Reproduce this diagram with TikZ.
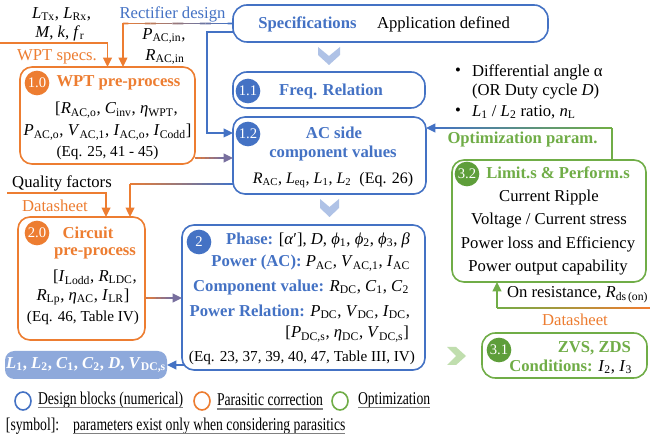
\documentclass[tikz,border=0pt]{standalone}
\usepackage{fontspec}
\setmainfont{Liberation Serif}
\newfontfamily\condfont[FakeStretch=0.76]{Liberation Serif}
\usetikzlibrary{arrows.meta,calc,shapes.geometric}
\definecolor{cblue}{HTML}{4472C4}
\definecolor{corange}{HTML}{ED7D31}
\definecolor{cgreen}{HTML}{70AD47}
\definecolor{cpurple}{HTML}{786F9E}
\definecolor{cpill}{HTML}{8EA9DB}
\definecolor{cchevb}{HTML}{AFC2E6}
\definecolor{cchevg}{HTML}{C0DEAE}
\definecolor{cbadgeg}{HTML}{5E9E3A}
\newcommand\vs[2]{\textit{#1}\textsubscript{\textup{#2}}}
\newcommand\hd[1]{\textcolor{cblue}{\bfseries #1}}
\newcommand\fsA{\fontsize{12.5}{14}\selectfont}
\newcommand\fsE{\fontsize{11.4}{13}\selectfont}
\newcommand\fsL{\condfont\fontsize{13.5}{15}\selectfont}
\newcommand\gradline[4]{%
  \foreach \i [evaluate=\i as \p using int(\i*5)] in {0,...,19}{%
    \draw[ln, color=#4!\p!#3] ($(#1)!{\i/20}!(#2)$) -- ($(#1)!{(\i+1)/20}!(#2)$);}}
\tikzset{
  box/.style={draw, line width=1.2pt, rounded corners=9pt, inner sep=0pt, outer sep=0pt},
  bbox/.style={box, draw=cblue},
  obox/.style={box, draw=corange},
  gbox/.style={box, draw=cgreen},
  badge/.style={circle, inner sep=0pt, minimum size=18.5pt, text=white, font=\fontsize{11}{12}\selectfont},
  txt/.style={inner sep=0pt, outer sep=0pt, font=\fsA},
  eqt/.style={inner sep=0pt, outer sep=0pt, font=\fsE},
  lgt/.style={inner sep=0pt, outer sep=0pt, font=\fsL},
  ln/.style={line width=1.2pt},
  arr/.style={-{Triangle[length=7pt,width=6.5pt]}},
  ring/.style={ellipse, draw, line width=1.2pt, minimum width=12pt, minimum height=13.5pt, inner sep=0pt},
  ul/.style={line width=1.1pt, black!50},
}
\begin{document}
\begin{tikzpicture}[x=0.75pt,y=-0.75pt]
\fill[white] (0,0) rectangle (650,441);
\useasboundingbox (0,0) rectangle (650,441);

% ---------- boxes ----------
\node[bbox, rounded corners=10.5pt, minimum width=236.25pt, minimum height=27.75pt] (spec) at (390.5,23.5) {};
\node[bbox, rounded corners=10.5pt, minimum width=144pt, minimum height=27pt] (f11) at (329,90) {};
\node[bbox, minimum width=144.75pt, minimum height=57.75pt] (f12) at (329.5,155.5) {};
\node[bbox, minimum width=182.25pt, minimum height=108.75pt] (box2) at (303.5,297.5) {};
\node[obox, minimum width=131.25pt, minimum height=72.75pt] (wpt) at (107.5,115.5) {};
\node[obox, minimum width=95.25pt, minimum height=92.25pt] (circ) at (81.5,278.5) {};
\node[box, draw=none, fill=cpill, rounded corners=7pt, minimum width=121.5pt, minimum height=21pt] (pill) at (86,365) {};
\node[gbox, minimum width=145.5pt, minimum height=91.5pt] (lim) at (549,221) {};
\node[gbox, rounded corners=10pt, minimum width=123.75pt, minimum height=33.75pt] (zvs) at (564.5,355.5) {};

% ---------- badges ----------
\node[badge, fill=corange] (b10) at (37,83) {1.0};
\node[badge, fill=cblue] (b11) at (248,91) {1.1};
\node[badge, fill=cblue] (b12) at (248,134) {1.2};
\node[badge, fill=cblue] (b2) at (199,242) {2};
\node[badge, fill=corange] (b20) at (37,233) {2.0};
\node[badge, fill=cbadgeg] (b32) at (467,174) {3.2};
\node[badge, fill=cbadgeg] (b31) at (499,350) {3.1};

% ---------- chevrons ----------
\fill[cchevb] (318,47) -- (329,56) -- (340,47) -- (340,55) -- (329,65) -- (318,55) -- cycle;
\fill[cchevb] (320,199) -- (329.5,207) -- (339,199) -- (339,208) -- (329.5,217) -- (320,208) -- cycle;
\fill[cchevg] (447,347) -- (456,347) -- (466,356) -- (456,365) -- (447,365) -- (456,356) -- cycle;

% ---------- texts in boxes ----------
\node[txt, text=cblue, font=\fsA\bfseries] (specT) at (307.5,24) {Specifications};
\node[txt, anchor=west] (appT) at (377,24) {Application defined};
\node[txt, text=cblue, font=\fsA\bfseries] (f11T) at (331,91) {Freq. Relation};
\node[txt, text=cblue, font=\fsA\bfseries] (f12T1) at (334,133) {AC side};
\node[txt, text=cblue, font=\fsA\bfseries] (f12T2) at (333,153) {component values};
\node[txt, font=\fontsize{12}{14}\selectfont] (f12T3) at (333,180) {\vs{R}{AC}, \vs{L}{eq}, \vs{L}{1}, \vs{L}{2}\ \ (Eq. 26)};

\node[txt, anchor=east] (b2l1) at (410,240) {\hd{Phase:} [\textit{α}′], \textit{D}, \vs{ϕ}{1}, \vs{ϕ}{2}, \vs{ϕ}{3}, \textit{β}};
\node[txt, anchor=east] (b2l2) at (410,263) {\hd{Power (AC):} \vs{P}{AC}, \vs{V}{AC,1}, \vs{I}{AC}};
\node[txt, anchor=east] (b2l3) at (409,287) {\hd{Component value:} \vs{R}{DC}, \vs{C}{1}, \vs{C}{2}};
\node[txt, anchor=east] (b2l4) at (410,312) {\hd{Power Relation:} \vs{P}{DC}, \vs{V}{DC}, \vs{I}{DC},};
\node[txt, anchor=east] (b2l5) at (409,334) {[\vs{P}{DC,s}, \vs{η}{DC}, \vs{V}{DC,s}]};
\node[eqt] (b2l6) at (302,358) {(Eq. 23, 37, 39, 40, 47, Table III, IV)};

\node[txt, text=corange, font=\fsA\bfseries] (wptT) at (118.5,83) {WPT pre-process};
\node[txt] (wptl1) at (116.5,110) {[\vs{R}{AC,o}, \vs{C}{inv}, \vs{η}{WPT},};
\node[txt] (wptl2) at (107.5,132) {\vs{P}{AC,o}, \vs{V}{AC,1}, \vs{I}{AC,o}, \vs{I}{Codd}]};
\node[eqt] (wptl3) at (107.5,153) {(Eq. 25, 41 - 45)};

\node[txt, text=corange, font=\fsA\bfseries] (circT1) at (88,233) {Circuit};
\node[txt, text=corange, font=\fsA\bfseries] (circT2) at (95,253) {pre-process};
\node[txt] (circl1) at (95,277) {[\vs{I}{Lodd}, \vs{R}{LDC},};
\node[txt] (circl2) at (83,297) {\vs{R}{Lp}, \vs{η}{AC}, \vs{I}{LR}]};
\node[eqt] (circl3) at (83,318) {(Eq. 46, Table IV)};

\node[txt, text=white, font=\fsA\bfseries] (pillT) at (86,365) {\vs{L}{1}, \vs{L}{2}, \vs{C}{1}, \vs{C}{2}, \textit{D}, \vs{V}{DC,s}};

\node[txt, text=cgreen, font=\fsA\bfseries] (limT) at (558,173) {Limit.s \& Perform.s};
\node[txt] (liml1) at (549,197) {Current Ripple};
\node[txt] (liml2) at (549,221) {Voltage / Current stress};
\node[txt] (liml3) at (548,244) {Power loss and Efficiency};
\node[txt] (liml4) at (548,268) {Power output capability};

\node[txt, text=cgreen, font=\fsA\bfseries, anchor=east] (zvsT) at (631,348) {ZVS, ZDS};
\node[txt, anchor=east] (zvsl) at (632,367) {\textcolor{cgreen}{\bfseries Conditions:} \vs{I}{2}, \vs{I}{3}};

% ---------- free labels ----------
\node[txt] (bul1) at (458,72) {•};
\node[txt, anchor=west] (opt1) at (472,72) {Differential angle α};
\node[txt, anchor=west] (opt2) at (472,92) {(OR Duty cycle \textit{D})};
\node[txt] (bul2) at (458,112) {•};
\node[txt, anchor=west] (opt3) at (472,112) {\vs{L}{1} / \vs{L}{2} ratio, \vs{n}{L}};
\node[txt, text=cgreen, font=\fsA\bfseries] (optT) at (522.5,139) {Optimization param.};

\node[txt, text=cblue] (rectT) at (172.5,14) {Rectifier design};
\node[txt] (pin) at (164,36) {\vs{P}{AC,in},};
\node[txt] (rin) at (165,57) {\vs{R}{AC,in}};
\node[txt] (ltx) at (61.5,14) {\vs{L}{Tx}, \vs{L}{Rx},};
\node[txt] (mkf) at (60,33) {\textit{M}, \textit{k}, \vs{f}{r}};
\node[txt, text=corange] (wspec) at (57,57) {WPT specs.};
\node[txt] (qf) at (62,183) {Quality factors};
\node[txt, text=corange] (ds1) at (55,206) {Datasheet};
\node[txt, anchor=west] (onr) at (507,295) {On resistance, \vs{R}{ds\,(on)}};
\node[txt, text=corange] (ds2) at (575,320) {Datasheet};

% ---------- connectors ----------
% rectifier design
\coordinate (c1) at ([xshift=11.6pt]wpt.north |- spec.west);
\gradline{spec.west}{c1}{cblue}{corange}
\draw[ln, corange, arr] (c1) -- ([xshift=11.6pt]wpt.north);
% spec -> 1.2
\draw[ln, cblue, arr] ([yshift=-6.4pt]spec.west) -- ++(-26,0) |- ([yshift=16.9pt]f12.west);
% WPT specs
\coordinate (win) at (0,43);
\draw[ln, corange, arr] (win) -| (wpt.north);
% 1.0 -> 1.2
\coordinate (c3) at ([xshift=-9pt]f12.west |- 0,158);
\draw[ln, cpurple, arr] (wpt.east |- c3) -- (f12.west |- c3);
\gradline{wpt.east |- c3}{c3}{corange}{cpurple}
% 1.2 -> 2.0
\coordinate (c4) at ([xshift=36.4pt]circ.north |- 0,184);
\gradline{f12.west |- c4}{c4}{cblue}{corange}
\draw[ln, corange, arr] (c4) -- ([xshift=36.4pt]circ.north);
% quality factors
\coordinate (qin) at (7,193);
\draw[ln, corange, arr] (qin) -| ([xshift=18.4pt]circ.north);
% 2.0 -> 2
\coordinate (c7) at ([xshift=-9pt]box2.west |- 0,298);
\draw[ln, cpurple, arr] (circ.east |- c7) -- (box2.west |- c7);
\gradline{circ.east |- c7}{c7}{corange}{cpurple}
% 2 -> pill
\draw[ln, cblue, arr] ([xshift=1.5pt]box2.west |- pill.east) -- (pill.east);
% 3.2 -> 1.2
\coordinate (c9) at ([xshift=47.25pt]lim.north |- 0,128);
\coordinate (c9b) at ([xshift=9pt]f12.east |- c9);
\draw[ln, cgreen] ([xshift=47.25pt]lim.north) -- (c9);
\draw[ln, cblue, arr] (c9b) -- (f12.east |- c9);
\gradline{c9}{c9b}{cgreen}{cblue}
% datasheet -> 3.2
\coordinate (dsin) at (650,308);
\coordinate (c10) at ([xshift=-39pt]lim.south |- dsin);
\gradline{dsin}{c10}{corange}{cgreen}
\draw[ln, cgreen, arr] (c10) -- ([xshift=-39pt]lim.south);

% ---------- legend ----------
\node[ring, draw=cblue] (lg1) at (23,401) {};
\node[lgt, anchor=west] (lgT1) at (38,400) {Design blocks (numerical)};
\node[ring, draw=corange] (lg2) at (202,401) {};
\node[lgt, anchor=west] (lgT2) at (217,400) {Parasitic correction};
\node[ring, draw=cgreen] (lg3) at (340,401) {};
\node[lgt, anchor=west] (lgT3) at (358,400) {Optimization};
\node[lgt, anchor=west] (lgT4) at (6,426) {[symbol]:};
\node[lgt, anchor=west] (lgT5) at (73,426) {parameters exist only when considering parasitics};
\foreach \n in {lgT1,lgT2,lgT3,lgT5}{
  \draw[ul] ([yshift=-2.4pt]\n.base west) -- ([yshift=-2.4pt]\n.base east);}
\end{tikzpicture}
\end{document}
